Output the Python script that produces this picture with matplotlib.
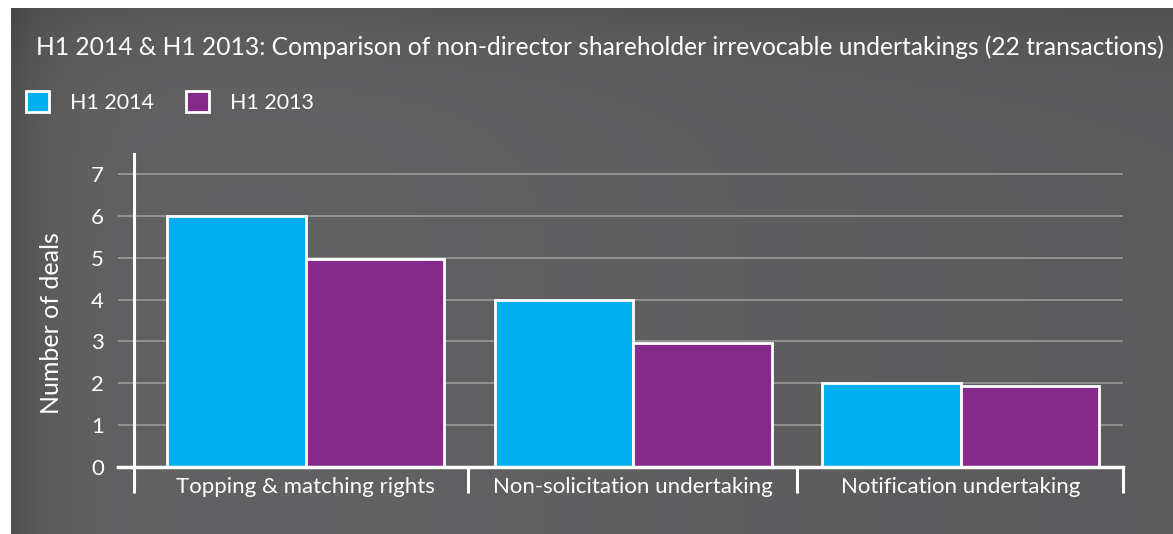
import numpy as np
import matplotlib
matplotlib.use("Agg")
import matplotlib.pyplot as plt

categories = ["Topping & matching rights", "Non-solicitation undertaking", "Notification undertaking"]
h1_2014 = [6, 4, 2]
h1_2013 = [4.96, 2.97, 1.94]
series_labels = ["H1 2014", "H1 2013"]
yticks = [0, 1, 2, 3, 4, 5, 6, 7]
title = "H1 2014 & H1 2013: Comparison of non-director shareholder irrevocable undertakings (22 transactions)"
ylabel = "Number of deals"

BLUE = "#00AEEF"
PURPLE = "#862A8A"
GRID = "#9a9a9a"
FONT = ["Lato", "DejaVu Sans"]
plt.rcParams["font.family"] = FONT

W, H = 1173, 534
fig = plt.figure(figsize=(W / 100, H / 100), dpi=100, facecolor="white")

# background panel with soft gradient
bg = fig.add_axes([11 / W, 0, 1 - 11 / W, 1 - 8 / H])
bg.set_axis_off()
nx, ny = 400, 200
xx = np.linspace(0, 1, nx)[None, :]
yy = np.linspace(0, 1, ny)[:, None]
val = 0.378 + 0.0 * xx * yy
val = val - 0.07 * np.exp(-xx / 0.03) - 0.04 * np.exp(-yy / 0.08) + 0.01 * np.exp(-((xx - 0.3) ** 2) / 0.1)
val = val - 0.02 * xx
img = np.dstack([val, val, val + 0.006])
bg.imshow(np.clip(img, 0, 1), aspect="auto", extent=[0, 1, 0, 1], origin="upper")
bg.set_xlim(0, 1)
bg.set_ylim(0, 1)

left, right = 134 / W, 1123 / W
bottom, top = (H - 467) / H, (H - 154) / H
ax = fig.add_axes([left, bottom, right - left, top - bottom])
ax.set_facecolor("none")

x = np.arange(len(categories))
bw = 0.423
b1 = ax.bar(x - bw / 2, h1_2014, bw, color=BLUE, edgecolor="white", linewidth=2, zorder=3, label=series_labels[0])
b2 = ax.bar(x + bw / 2, h1_2013, bw, color=PURPLE, edgecolor="white", linewidth=2, zorder=3, label=series_labels[1])

xl, xr = -0.524, 2.496
ax.set_xlim(xl, xr)
ax.set_ylim(0, 7.48)
ax.set_yticks(yticks)
ax.set_yticklabels([str(v) for v in yticks], fontsize=16, color="white")
ax.yaxis.grid(True, color=GRID, linewidth=1.2, zorder=1)
ax.tick_params(axis="y", length=11.5, width=1.2, color=GRID, pad=10)

ax.set_xticks(x)
ax.set_xticklabels(categories, fontsize=16, color="white")
ax.tick_params(axis="x", which="major", length=0, pad=7)
ax.set_xticks([xl, 0.496, 1.501, xr], minor=True)
ax.tick_params(axis="x", which="minor", length=19, width=2.2, color="white", direction="out")

for s in ["top", "right", "bottom"]:
    ax.spines[s].set_visible(False)
ax.spines["left"].set_color("white")
ax.spines["left"].set_linewidth(2.2)
ax.axhline(0, xmin=-16 / 989, xmax=1, color="white", linewidth=2.5, clip_on=False, zorder=4)

ax.set_ylabel(ylabel, fontsize=18, color="white")
ax.yaxis.set_label_coords(-71 / 989, 0.46)

t = fig.text(36 / W, 1 - 47 / H, title, fontsize=15, color="white", va="center", ha="left")
fig.canvas.draw()
bb = t.get_window_extent()
t.set_fontsize(15 * 1130 / bb.width)

fig.legend([b1, b2], series_labels, loc="center left", bbox_to_anchor=(26 / W, 1 - 102 / H),
           ncol=2, frameon=False, fontsize=15.5, handlelength=1.08, handleheight=1.08,
           handletextpad=0.95, columnspacing=1.5, borderpad=0, borderaxespad=0, labelcolor="white")

fig.savefig("out.png", dpi=100, facecolor="white")
